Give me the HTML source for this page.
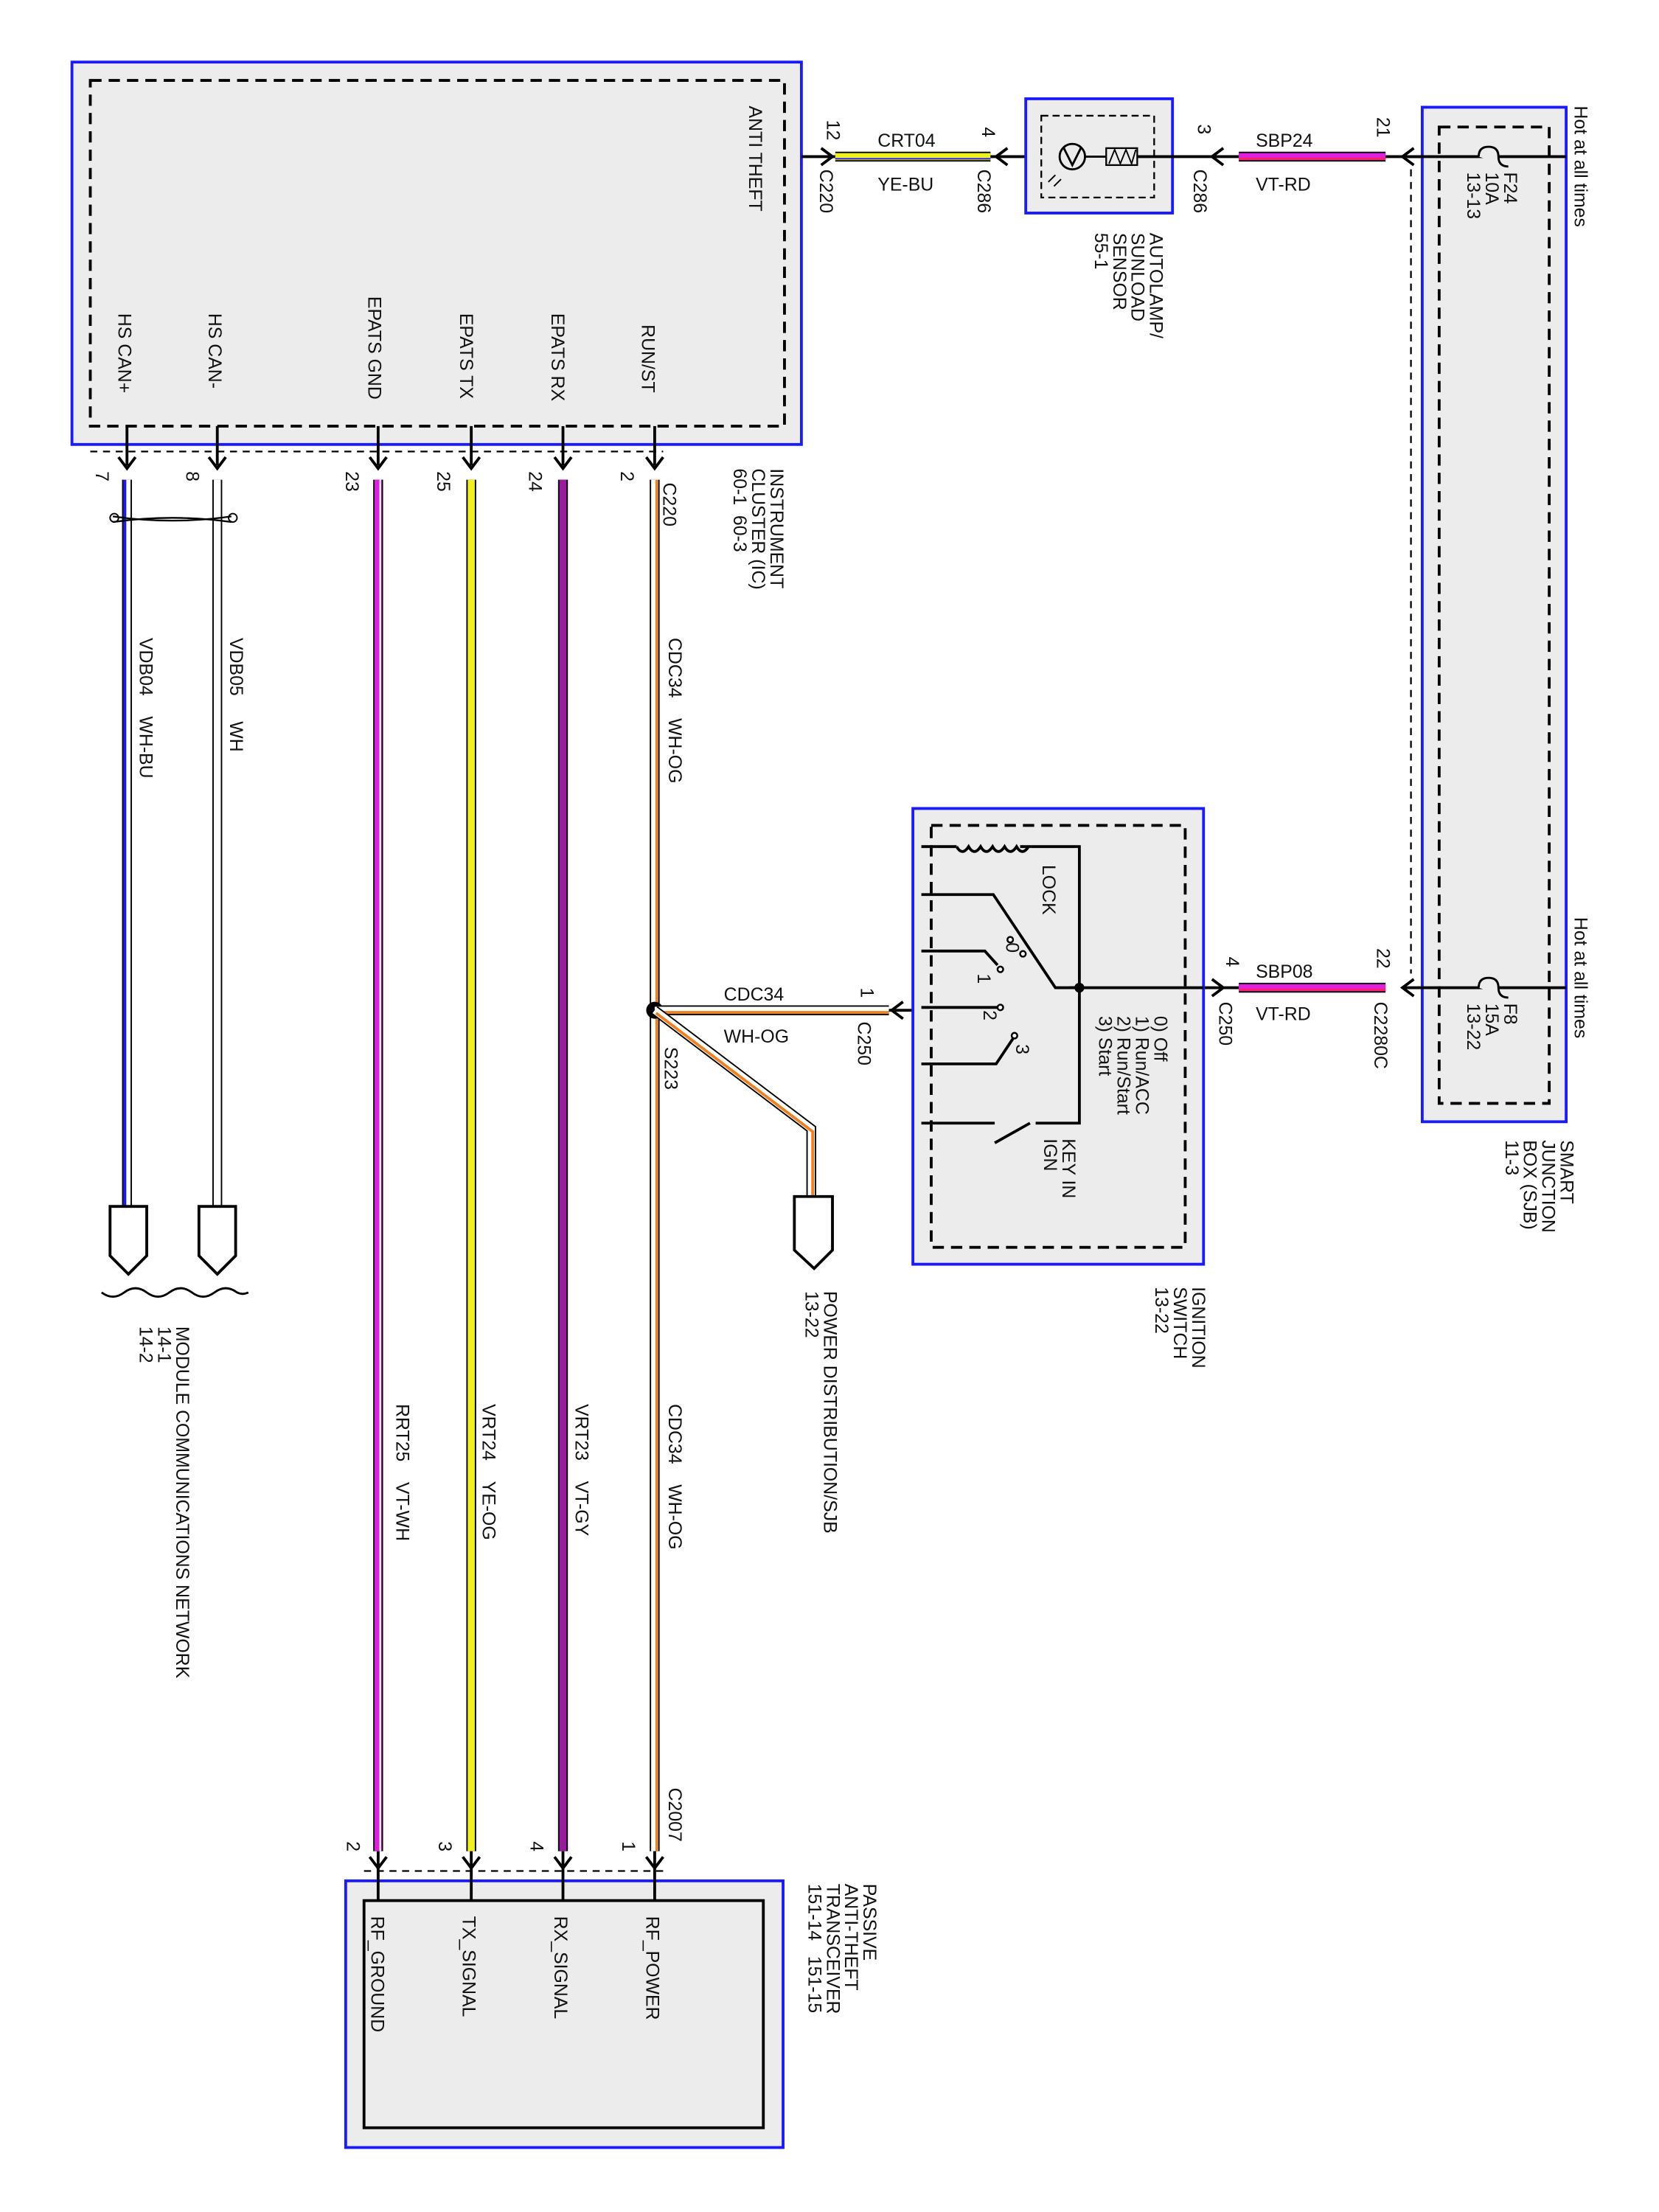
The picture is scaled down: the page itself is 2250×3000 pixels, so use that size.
<!DOCTYPE html>
<html><head><meta charset="utf-8"><style>
html,body{margin:0;padding:0;background:#fff;}
svg{display:block;}
text{font-family:"Liberation Sans",Arial,sans-serif;font-size:13px;fill:#111;}
</style></head><body>
<svg width="2250" height="3000" viewBox="0 0 1175.8 1567.7" preserveAspectRatio="none" xmlns="http://www.w3.org/2000/svg">
<defs>
<g id="chev"><path d="M-6,-6 L0,2 L6,-6" fill="none" stroke="#000" stroke-width="2"/></g>
</defs>
<rect width="1176" height="1568" fill="#fff"/>

<!-- Instrument cluster -->
<rect x="51" y="44" width="517" height="271" fill="#ececec" stroke="#1a1aff" stroke-width="2"/>
<rect x="64" y="57" width="492" height="245" fill="none" stroke="#000" stroke-width="2" stroke-dasharray="8,5"/>
<line x1="64" y1="320" x2="470" y2="320" stroke="#000" stroke-width="1.2" stroke-dasharray="5,4"/>
<text transform="translate(531,75) rotate(90)">ANTI THEFT</text>
<text transform="translate(84,222) rotate(90)">HS CAN+</text>
<text transform="translate(148,222) rotate(90)">HS CAN-</text>
<text transform="translate(261,210) rotate(90)">EPATS GND</text>
<text transform="translate(326,222) rotate(90)">EPATS TX</text>
<text transform="translate(391,222) rotate(90)">EPATS RX</text>
<text transform="translate(455,230) rotate(90)">RUN/ST</text>

<g stroke="#000" stroke-width="2">
<line x1="90" y1="302" x2="90" y2="330"/><line x1="154" y1="302" x2="154" y2="330"/>
<line x1="268" y1="302" x2="268" y2="330"/><line x1="334" y1="302" x2="334" y2="330"/>
<line x1="399" y1="302" x2="399" y2="330"/><line x1="464" y1="302" x2="464" y2="330"/>
</g>
<use href="#chev" x="90" y="330"/><use href="#chev" x="154" y="330"/><use href="#chev" x="268" y="330"/>
<use href="#chev" x="334" y="330"/><use href="#chev" x="399" y="330"/><use href="#chev" x="464" y="330"/>

<text transform="translate(68,334) rotate(90)">7</text>
<text transform="translate(132,334) rotate(90)">8</text>
<text transform="translate(245,334) rotate(90)">23</text>
<text transform="translate(310,334) rotate(90)">25</text>
<text transform="translate(375,334) rotate(90)">24</text>
<text transform="translate(440,334) rotate(90)">2</text>
<text transform="translate(470,342) rotate(90)">C220</text>
<text transform="translate(546,332) rotate(90)">INSTRUMENT</text>
<text transform="translate(533,332) rotate(90)">CLUSTER (IC)</text>
<text transform="translate(520,332) rotate(90)">60-1&#160;&#160;60-3</text>

<g>
<line x1="90" y1="340" x2="90" y2="855" stroke="#000" stroke-width="7"/>
<line x1="90" y1="340" x2="90" y2="855" stroke="#fff" stroke-width="5"/>
<line x1="88.5" y1="340" x2="88.5" y2="855" stroke="#1a1aff" stroke-width="2"/>
<line x1="154" y1="340" x2="154" y2="855" stroke="#000" stroke-width="7"/>
<line x1="154" y1="340" x2="154" y2="855" stroke="#fff" stroke-width="5"/>
<line x1="268" y1="340" x2="268" y2="1312" stroke="#000" stroke-width="7"/>
<line x1="268" y1="340" x2="268" y2="1312" stroke="#e020e0" stroke-width="5"/>
<line x1="269.5" y1="340" x2="269.5" y2="1312" stroke="#fff" stroke-width="1.2"/>
<line x1="334" y1="340" x2="334" y2="1312" stroke="#000" stroke-width="7"/>
<line x1="334" y1="340" x2="334" y2="1312" stroke="#f0f020" stroke-width="5"/>
<line x1="399" y1="340" x2="399" y2="1312" stroke="#000" stroke-width="7"/>
<line x1="399" y1="340" x2="399" y2="1312" stroke="#9a1aa0" stroke-width="5"/>
<line x1="464" y1="340" x2="464" y2="1312" stroke="#000" stroke-width="7"/>
<line x1="464" y1="340" x2="464" y2="1312" stroke="#fff" stroke-width="5"/>
<line x1="465.5" y1="340" x2="465.5" y2="1312" stroke="#f08020" stroke-width="2"/>
</g>
<path d="M80,366 Q122,372 164,366" fill="none" stroke="#000" stroke-width="1.2"/>
<path d="M80,370 Q122,364 164,370" fill="none" stroke="#000" stroke-width="1.2"/>
<circle cx="81" cy="367" r="3" fill="none" stroke="#000"/><circle cx="165" cy="367" r="3" fill="none" stroke="#000"/>

<text transform="translate(99,452) rotate(90)">VDB04&#160;&#160;&#160;&#160;WH-BU</text>
<text transform="translate(163,452) rotate(90)">VDB05&#160;&#160;&#160;&#160;&#160;WH</text>
<text transform="translate(474,452) rotate(90)">CDC34&#160;&#160;&#160;&#160;WH-OG</text>
<text transform="translate(281,995) rotate(90)">RRT25&#160;&#160;&#160;&#160;VT-WH</text>
<text transform="translate(342,995) rotate(90)">VRT24&#160;&#160;&#160;&#160;YE-OG</text>
<text transform="translate(408,995) rotate(90)">VRT23&#160;&#160;&#160;&#160;VT-GY</text>
<text transform="translate(474,995) rotate(90)">CDC34&#160;&#160;&#160;&#160;WH-OG</text>

<path d="M78,855 H104 V890 L91,903 L78,890 Z" fill="#fff" stroke="#000" stroke-width="2"/>
<path d="M141,855 H167 V890 L154,903 L141,890 Z" fill="#fff" stroke="#000" stroke-width="2"/>
<path d="M72,916 Q80,922 88,916 Q96,910 104,916 Q112,922 120,916 Q128,910 136,916 Q144,922 152,916 Q160,910 168,916 Q172,918 176,916" fill="none" stroke="#000" stroke-width="1.5"/>
<text transform="translate(125,940) rotate(90)">MODULE COMMUNICATIONS NETWORK</text>
<text transform="translate(112,940) rotate(90)">14-1</text>
<text transform="translate(99,940) rotate(90)">14-2</text>

<circle cx="464" cy="716" r="6" fill="#000"/>
<line x1="464" y1="716" x2="630" y2="716" stroke="#000" stroke-width="7"/>
<line x1="464" y1="716" x2="630" y2="716" stroke="#fff" stroke-width="5"/>
<line x1="464" y1="717.5" x2="630" y2="717.5" stroke="#f08020" stroke-width="2"/>
<line x1="630" y1="716" x2="660" y2="716" stroke="#000" stroke-width="2"/>
<path d="M640,710 L632,716 L640,722" fill="none" stroke="#000" stroke-width="2"/>
<path d="M464,716 L575,800 L575,850" fill="none" stroke="#000" stroke-width="7"/>
<path d="M464,716 L575,800 L575,850" fill="none" stroke="#fff" stroke-width="5"/>
<path d="M465,718 L576,802 L576,850" fill="none" stroke="#f08020" stroke-width="2"/>
<path d="M563,848 H590 V886 L577,899 L563,886 Z" fill="#fff" stroke="#000" stroke-width="2"/>
<text x="513" y="709">CDC34</text>
<text x="513" y="739">WH-OG</text>
<text transform="translate(471,742) rotate(90)">S223</text>
<text transform="translate(610,700) rotate(90)">1</text>
<text transform="translate(608,724) rotate(90)">C250</text>
<text transform="translate(584,915) rotate(90)">POWER DISTRIBUTION/SJB</text>
<text transform="translate(571,915) rotate(90)">13-22</text>

<line x1="258" y1="1326" x2="472" y2="1326" stroke="#000" stroke-width="1.2" stroke-dasharray="5,4"/>
<rect x="245" y="1333" width="310" height="189" fill="#ececec" stroke="#1a1aff" stroke-width="2"/>
<rect x="258" y="1347" width="283" height="161" fill="#ececec" stroke="#000" stroke-width="2"/>
<g stroke="#000" stroke-width="2">
<line x1="268" y1="1312" x2="268" y2="1347"/><line x1="334" y1="1312" x2="334" y2="1347"/>
<line x1="399" y1="1312" x2="399" y2="1347"/><line x1="464" y1="1312" x2="464" y2="1347"/>
</g>
<use href="#chev" x="268" y="1322"/><use href="#chev" x="334" y="1322"/><use href="#chev" x="399" y="1322"/><use href="#chev" x="464" y="1322"/>
<text transform="translate(246,1305) rotate(90)">2</text>
<text transform="translate(311,1305) rotate(90)">3</text>
<text transform="translate(376,1305) rotate(90)">4</text>
<text transform="translate(441,1305) rotate(90)">1</text>
<text transform="translate(474,1267) rotate(90)">C2007</text>
<text transform="translate(263,1358) rotate(90)">RF_GROUND</text>
<text transform="translate(328,1358) rotate(90)">TX_SIGNAL</text>
<text transform="translate(393,1358) rotate(90)">RX_SIGNAL</text>
<text transform="translate(458,1358) rotate(90)">RF_POWER</text>
<text transform="translate(612,1335) rotate(90)">PASSIVE</text>
<text transform="translate(599,1335) rotate(90)">ANTI-THEFT</text>
<text transform="translate(586,1335) rotate(90)">TRANSCEIVER</text>
<text transform="translate(573,1335) rotate(90)">151-14&#160;&#160;&#160;151-15</text>

<line x1="568" y1="111" x2="592" y2="111" stroke="#000" stroke-width="2"/>
<path d="M582,105 L590,111 L582,117" fill="none" stroke="#000" stroke-width="2"/>
<line x1="592" y1="111" x2="702" y2="111" stroke="#000" stroke-width="7"/>
<line x1="592" y1="111" x2="702" y2="111" stroke="#f0f020" stroke-width="5"/>
<line x1="592" y1="112.5" x2="702" y2="112.5" stroke="#1a1aff" stroke-width="1"/>
<line x1="702" y1="111" x2="740" y2="111" stroke="#000" stroke-width="2"/>
<path d="M714,105 L706,111 L714,117" fill="none" stroke="#000" stroke-width="2"/>
<text x="622" y="104">CRT04</text>
<text x="622" y="135">YE-BU</text>
<text transform="translate(586,85) rotate(90)">12</text>
<text transform="translate(581,120) rotate(90)">C220</text>
<text transform="translate(696,90) rotate(90)">4</text>
<text transform="translate(693,120) rotate(90)">C286</text>

<rect x="727" y="70" width="104" height="81" fill="#ececec" stroke="#1a1aff" stroke-width="2"/>
<rect x="738" y="82" width="80" height="58" fill="none" stroke="#000" stroke-width="1.2" stroke-dasharray="5,3"/>
<circle cx="760" cy="111" r="9" fill="none" stroke="#000" stroke-width="1.5"/>
<path d="M754,105 L760,117 L766,105" fill="none" stroke="#000" stroke-width="1.5"/>
<path d="M748,124 l-5,5 M752,127 l-5,5" stroke="#000" stroke-width="1"/>
<line x1="769" y1="111" x2="784" y2="111" stroke="#000" stroke-width="1.5"/>
<rect x="784" y="105" width="22" height="12" fill="none" stroke="#000" stroke-width="1.2"/>
<path d="M786,116 L790,106 L794,116 L798,106 L802,116 L805,106" fill="none" stroke="#000" stroke-width="1"/>
<line x1="806" y1="111" x2="878" y2="111" stroke="#000" stroke-width="2"/>
<text transform="translate(815,165) rotate(90)">AUTOLAMP/</text>
<text transform="translate(802,165) rotate(90)">SUNLOAD</text>
<text transform="translate(789,165) rotate(90)">SENSOR</text>
<text transform="translate(776,165) rotate(90)">55-1</text>

<path d="M867,105 L859,111 L867,117" fill="none" stroke="#000" stroke-width="2"/>
<line x1="878" y1="111" x2="982" y2="111" stroke="#000" stroke-width="7"/>
<line x1="878" y1="111" x2="982" y2="111" stroke="#e020e0" stroke-width="5"/>
<line x1="878" y1="112.5" x2="982" y2="112.5" stroke="#ff2060" stroke-width="1.5"/>
<line x1="982" y1="111" x2="1110" y2="111" stroke="#000" stroke-width="2"/>
<path d="M1002,105 L994,111 L1002,117" fill="none" stroke="#000" stroke-width="2"/>
<text x="890" y="104">SBP24</text>
<text x="890" y="135">VT-RD</text>
<text transform="translate(849,88) rotate(90)">3</text>
<text transform="translate(846,120) rotate(90)">C286</text>
<text transform="translate(976,83) rotate(90)">21</text>

<rect x="1008" y="76" width="102" height="719" fill="#ececec" stroke="#1a1aff" stroke-width="2"/>
<rect x="1020" y="90" width="78" height="692" fill="none" stroke="#000" stroke-width="2" stroke-dasharray="8,5"/>
<line x1="1000" y1="120" x2="1000" y2="690" stroke="#000" stroke-width="1.2" stroke-dasharray="5,4"/>
<line x1="994" y1="111" x2="1110" y2="111" stroke="#000" stroke-width="2"/>
<path d="M1048,111 q0,-7 7,-7 q7,0 7,7 q0,7 7,7" fill="#ececec" stroke="#000" stroke-width="1.5"/>
<line x1="994" y1="700" x2="1110" y2="700" stroke="#000" stroke-width="2"/>
<path d="M1048,700 q0,-7 7,-7 q7,0 7,7 q0,7 7,7" fill="#ececec" stroke="#000" stroke-width="1.5"/>
<text transform="translate(1066,122) rotate(90)">F24</text>
<text transform="translate(1053,122) rotate(90)">10A</text>
<text transform="translate(1040,122) rotate(90)">13-13</text>
<text transform="translate(1066,711) rotate(90)">F8</text>
<text transform="translate(1053,711) rotate(90)">15A</text>
<text transform="translate(1040,711) rotate(90)">13-22</text>
<text transform="translate(1116,75) rotate(90)">Hot at all times</text>
<text transform="translate(1116,650) rotate(90)">Hot at all times</text>
<text transform="translate(1106,808) rotate(90)">SMART</text>
<text transform="translate(1093,808) rotate(90)">JUNCTION</text>
<text transform="translate(1080,808) rotate(90)">BOX (SJB)</text>
<text transform="translate(1067,808) rotate(90)">11-3</text>

<line x1="758" y1="700" x2="878" y2="700" stroke="#000" stroke-width="2"/>
<path d="M859,694 L867,700 L859,706" fill="none" stroke="#000" stroke-width="2"/>
<line x1="878" y1="700" x2="982" y2="700" stroke="#000" stroke-width="7"/>
<line x1="878" y1="700" x2="982" y2="700" stroke="#e020e0" stroke-width="5"/>
<line x1="878" y1="701.5" x2="982" y2="701.5" stroke="#ff2060" stroke-width="1.5"/>
<path d="M1002,694 L994,700 L1002,706" fill="none" stroke="#000" stroke-width="2"/>
<text x="890" y="693">SBP08</text>
<text x="890" y="723">VT-RD</text>
<text transform="translate(869,678) rotate(90)">4</text>
<text transform="translate(864,710) rotate(90)">C250</text>
<text transform="translate(976,672) rotate(90)">22</text>
<text transform="translate(974,710) rotate(90)">C2280C</text>

<rect x="647" y="573" width="206" height="323" fill="#ececec" stroke="#1a1aff" stroke-width="2"/>
<rect x="660" y="585" width="180" height="299" fill="none" stroke="#000" stroke-width="2" stroke-dasharray="8,5"/>
<line x1="758" y1="700" x2="853" y2="700" stroke="#000" stroke-width="2"/>
<g stroke="#000" stroke-width="2" fill="none">
<path d="M653,600 H678 M723,600 H765 V796 H734"/>
<path d="M678,600 q4,7 8.5,0 q4,7 8.5,0 q4,7 8.5,0 q4,7 8.5,0 q4,7 8.5,0 q4,7 8.5,0"/>
<path d="M653,634 H704 L748,700 H765"/>
<path d="M653,674 H698 L707,684"/>
<path d="M653,714 H707"/>
<path d="M653,754 H706 L718,736"/>
<path d="M653,796 H705 M705,810 L730,796"/>
</g>
<circle cx="765" cy="700" r="3.5" fill="#000"/>
<g fill="#fff" stroke="#000" stroke-width="1.3">
<circle cx="709" cy="687" r="2"/><circle cx="709" cy="714" r="2"/><circle cx="719" cy="734" r="2"/>
<circle cx="716" cy="666" r="2"/><circle cx="725" cy="676" r="2"/>
</g>
<text transform="translate(739,613) rotate(90)">LOCK</text>
<text transform="translate(713,668) rotate(90)">0</text>
<text transform="translate(693,690) rotate(90)">1</text>
<text transform="translate(697,716) rotate(90)">2</text>
<text transform="translate(720,740) rotate(90)">3</text>
<text transform="translate(818,720) rotate(90)">0) Off</text>
<text transform="translate(805,720) rotate(90)">1) Run/ACC</text>
<text transform="translate(792,720) rotate(90)">2) Run/Start</text>
<text transform="translate(779,720) rotate(90)">3) Start</text>
<text transform="translate(753,807) rotate(90)">KEY IN</text>
<text transform="translate(740,807) rotate(90)">IGN</text>
<text transform="translate(845,912) rotate(90)">IGNITION</text>
<text transform="translate(832,912) rotate(90)">SWITCH</text>
<text transform="translate(819,912) rotate(90)">13-22</text>
</svg>
</body></html>
